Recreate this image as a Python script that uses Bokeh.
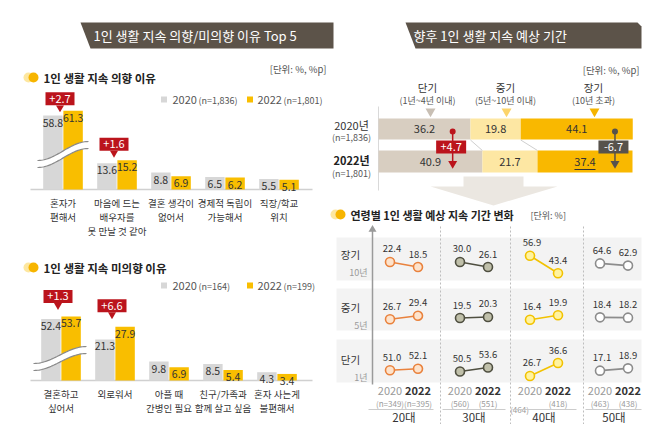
import numpy as np
from bokeh.plotting import figure
from bokeh.models import Range1d, ColumnDataSource
from bokeh.core.properties import value
from bokeh.transform import dodge
from bokeh.embed import file_html
from bokeh.resources import INLINE

FONT = "Noto Sans CJK KR"

# ---------------- data ----------------
title_left = "1인 생활 지속 의향/미의향 이유 Top 5"
title_right = "향후 1인 생활 지속 예상 기간"
unit_text = "[단위: %, %p]"

keep_title = "1인 생활 지속 의향 이유"
keep_reasons = ["혼자가\n편해서", "마음에 드는\n배우자를\n못 만날 것 같아", "결혼 생각이\n없어서",
                "경제적 독립이\n가능해서", "직장/학교\n위치"]
keep_2020 = [58.8, 13.6, 8.8, 6.5, 5.5]
keep_2022 = [61.3, 15.2, 6.9, 6.2, 5.1]
keep_change = ["+2.7", "+1.6"]
keep_n = ["(n=1,836)", "(n=1,801)"]

quit_title = "1인 생활 지속 미의향 이유"
quit_reasons = ["결혼하고\n싶어서", "외로워서", "아플 때\n간병인 필요", "친구/가족과\n함께 살고 싶음",
                "혼자 사는게\n불편해서"]
quit_2020 = [52.4, 21.3, 9.8, 8.5, 4.3]
quit_2022 = [53.7, 27.9, 6.9, 5.4, 3.4]
quit_change = ["+1.3", "+6.6"]
quit_n = ["(n=164)", "(n=199)"]

years = ["2020", "2022"]

periods = ["단기", "중기", "장기"]
period_sub = ["(1년~4년 이내)", "(5년~10년 이내)", "(10년 초과)"]
period_short = ["1년", "5년", "10년"]
dur_rows = ["2020년", "2022년"]
dur_n = ["(n=1,836)", "(n=1,801)"]
dur_2020 = [36.2, 19.8, 44.1]
dur_2022 = [40.9, 21.7, 37.4]
dur_change = {0: "+4.7", 2: "-6.7"}

age_title = "연령별 1인 생활 예상 지속 기간 변화"
age_unit = "[단위: %]"
ages = ["20대", "30대", "40대", "50대"]
age_n_2020 = ["(n=349)", "(560)", "(464)", "(463)"]
age_n_2022 = ["(n=395)", "(551)", "(418)", "(438)"]
long_2020 = [22.4, 30.0, 56.9, 64.6]
long_2022 = [18.5, 26.1, 43.4, 62.9]
mid_2020 = [26.7, 19.5, 16.4, 18.4]
mid_2022 = [29.4, 20.3, 19.9, 18.2]
short_2020 = [51.0, 50.5, 26.7, 17.1]
short_2022 = [52.1, 53.6, 36.6, 18.9]

# ---------------- style ----------------
DARK = "#333333"
MID = "#555555"
LIGHT = "#9a9a9a"
GRAY_BAR = "#d7d7d7"
GOLD = "#f9be00"
BANNER = "#5c5349"
RED = "#bb141c"
DGRAY = "#57524c"
PALE = "#fde7a0"
BULLET = "#f7b500"
SEG_COLORS = ["#d8cec1", "#fde7a3", "#f9b800"]
TRI_COLORS = ["#c8bfb4", "#fcd46a", "#f5b400"]
AGE_LINE = ["#e9823d", "#4f4f40", "#f2c200", "#8c8c8c"]
AGE_FILL = ["#fde3cc", "#c0c0aa", "#fff3a0", "#ffffff"]

W, H = 642, 424
p = figure(width=W, height=H, x_range=Range1d(0, W), y_range=Range1d(H, 0),
           x_axis_type=None, y_axis_type=None, output_backend="svg",
           toolbar_location=None, min_border=0, outline_line_color=None,
           background_fill_color="white", border_fill_color="white")
for g in p.grid:
    g.visible = False


def txt(x, y, s, size, color=DARK, align="center", baseline="middle", style="normal", **kw):
    xs = x if isinstance(x, list) else [x]
    ys = y if isinstance(y, list) else [y]
    ss = s if isinstance(s, list) else [s]
    return p.text(x=xs, y=ys, text=ss, text_font=value(FONT), text_font_size=f"{size}px",
                  text_color=color, text_align=align, text_baseline=baseline,
                  text_font_style=style, **kw)


def stxt(src, x, y, field, size, color=DARK, align="center", baseline="middle", style="normal", **kw):
    return p.text(x=x, y=y, text=field, source=src, text_font=value(FONT), text_font_size=f"{size}px",
                  text_color=color, text_align=align, text_baseline=baseline,
                  text_font_style=style, **kw)


def bullet(x, y):
    p.scatter(x=[x, x + 5], y=[y, y], size=10, fill_color=[PALE, BULLET], line_color=None)


# ---------------- banners ----------------
p.patch(x=[80, 333, 333, 90], y=[22, 22, 48, 48], fill_color=BANNER, line_color=None)
p.patch(x=[405, 637, 641, 641, 415], y=[22, 22, 26, 48, 48], fill_color=BANNER, line_color=None)
txt(93, 35, title_left, 13, color="white", align="left")
txt(413, 35, title_right, 13, color="white", align="left")
txt(326, 68, unit_text, 9.5, color=MID, align="right")
txt(639, 69, unit_text, 9.5, color=MID, align="right")

# ---------------- bar charts ----------------
S = 1.93
BREAK = 20.5
STEP = 54.0


def disp(vals):
    return [v - BREAK if v > 40 else v for v in vals]


def wave(x0, y0, x1, y1, n=40):
    t = np.linspace(0, 1, n)
    return x0 + (x1 - x0) * t, y0 + (y1 - y0) * (0.5 - 0.5 * np.cos(np.pi * t))


def bar_chart(key, title, cats, v20, v22, nlab, changes, gaps, base_y, x0, head_y, leg_y, wave_pts):
    rx, ry = key + "x", key + "y"
    p.extra_x_ranges[rx] = Range1d((0 - x0) / STEP, (W - x0) / STEP)
    p.extra_y_ranges[ry] = Range1d((base_y - H) / S, (base_y - 0) / S)
    bullet(28, head_y)
    txt(43, head_y, title, 11.5, color="#222222", align="left", style="bold")
    # legend
    p.rect(x=[163.5, 249.5], y=[leg_y, leg_y], width=6, height=6, fill_color=[GRAY_BAR, GOLD], line_color=None)
    txt([172, 257], [leg_y, leg_y], years, 11, color=MID, align="left")
    txt([198, 283], [leg_y + 0.5, leg_y + 0.5], nlab, 9, color=MID, align="left")
    # baseline
    p.segment(x0=[30], y0=[base_y], x1=[312], y1=[base_y], line_color="#d0d0d0", line_width=1.5)
    n = len(cats)
    src = ColumnDataSource(dict(i=list(range(n)), a=disp(v20), b=disp(v22),
                                la=[f"{v:.1f}" for v in v20], lb=[f"{v:.1f}" for v in v22],
                                cat=cats, zero=[0] * n))
    d = 0.187
    p.vbar(x=dodge("i", -d), top="a", bottom=0, width=0.36, source=src, fill_color=GRAY_BAR,
           line_color=None, x_range_name=rx, y_range_name=ry)
    p.vbar(x=dodge("i", d), top="b", bottom=0, width=0.36, source=src, fill_color=GOLD,
           line_color=None, x_range_name=rx, y_range_name=ry)
    stxt(src, dodge("i", -d), "a", "la", 10.5, y_offset=7, x_range_name=rx, y_range_name=ry)
    stxt(src, dodge("i", d), "b", "lb", 10.5, y_offset=7, x_range_name=rx, y_range_name=ry)
    p.text(x="i", y="zero", text="cat", source=src, text_font=value(FONT), text_font_size="9.5px",
           text_color=DARK, text_align="center", text_baseline="top", text_line_height=1.0,
           y_offset=6, x_range_name=rx, y_range_name=ry)
    # axis-break mark
    (ux0, uy0, ux1, uy1) = wave_pts
    wx, wy = wave(ux0, uy0, ux1, uy1)
    p.patch(x=list(wx) + list(wx[::-1]), y=list(wy) + list((wy + 7)[::-1]), fill_color="white", line_color=None)
    p.line(x=wx, y=wy, line_color="#8a8a8a", line_width=1.2)
    p.line(x=wx, y=wy + 7, line_color="#8a8a8a", line_width=1.2)
    # change callouts
    da, db = disp(v20), disp(v22)
    for k, lab in enumerate(changes):
        top = max(da[k], db[k])
        cx = k - 3 / STEP
        cy = top + gaps[k] / S
        p.scatter(x=[cx], y=[top + (gaps[k] - 9) / S], marker="inverted_triangle", size=8,
                  fill_color=RED, line_color=None, x_range_name=rx, y_range_name=ry)
        p.rect(x=[cx], y=[cy], width=29, height=13, width_units="screen", height_units="screen",
               fill_color=RED, line_color=None, x_range_name=rx, y_range_name=ry)
        p.text(x=[cx], y=[cy], text=[lab], text_font=value(FONT), text_font_size="11px",
               text_color="white", text_align="center", text_baseline="middle",
               x_range_name=rx, y_range_name=ry)


bar_chart("c1", keep_title, keep_reasons, keep_2020, keep_2022, keep_n, keep_change, [12, 16],
          189, 62.5, 77, 99, (37, 160, 88, 141))
bar_chart("c2", quit_title, quit_reasons, quit_2020, quit_2022, quit_n, quit_change, [20, 21],
          380, 60.5, 267, 285, (33, 363, 86, 346))

# ---------------- stacked duration bars ----------------
SX = 2.54
X0S = 378
p.extra_x_ranges["sx"] = Range1d((0 - X0S) / SX, (W - X0S) / SX)
row_y = [128.5, 161]
row_h = [21, 22]

# headers
for k, (name, sub) in enumerate(zip(periods, period_sub)):
    hx = [427, 505, 593][k]
    txt(hx, 87, name, 10.5, color=DARK)
    txt(hx, 100, sub, 9, color=MID)
p.scatter(x=[430, 506, 594], y=[111, 111, 111], marker="inverted_triangle", size=10,
          fill_color=TRI_COLORS, line_color=None)

# left axis line
p.segment(x0=[0], y0=[106], x1=[0], y1=[190], line_color="#d9d9d9", line_width=1, x_range_name="sx")

cums = []
for r, vals in enumerate([dur_2020, dur_2022]):
    right = np.cumsum(vals)
    left = right - np.array(vals)
    cums.append(right)
    src = ColumnDataSource(dict(l=left, r=right, c=(left + right) / 2, y=[row_y[r]] * 3,
                                col=SEG_COLORS, lab=[f"{v:.1f}" for v in vals]))
    p.hbar(y="y", left="l", right="r", height=row_h[r], fill_color="col", line_color=None,
           source=src, x_range_name="sx")
    stxt(src, "c", "y", "lab", 11, x_range_name="sx")
# underline on the long-term 2022 value
c22 = cums[1][2] - dur_2022[2] / 2
p.rect(x=[c22], y=[169], width=21, height=1, width_units="screen", height_units="screen",
       fill_color=DARK, line_color=None, x_range_name="sx")
# connectors between rows
p.segment(x0=list(cums[0][:2]), y0=[139.5, 139.5], x1=list(cums[1][:2]), y1=[150, 150],
          line_color="#cfcfcf", line_width=1, x_range_name="sx")

# row labels
txt(351, 124, dur_rows[0], 11, color=DARK)
txt(351, 137, dur_n[0], 9, color=MID)
txt(351, 159, dur_rows[1], 11, color="#222222", style="bold")
txt(351, 173, dur_n[1], 9, color=MID)

# change arrows
for k, lab in dur_change.items():
    col = RED if lab.startswith("+") else DGRAY
    ax = cums[0][k] - 7
    p.segment(x0=[ax], y0=[131], x1=[ax], y1=[162], line_color=col, line_width=1.5, x_range_name="sx")
    p.scatter(x=[ax], y=[131], size=6, fill_color=col, line_color=None, x_range_name="sx")
    p.scatter(x=[ax], y=[163], marker="inverted_triangle", size=9, fill_color=col, line_color=None,
              x_range_name="sx")
    p.rect(x=[ax - 0.6], y=[146.5], width=30, height=13, width_units="screen", height_units="screen",
           fill_color=col, line_color=None, x_range_name="sx")
    p.text(x=[ax - 0.6], y=[146.5], text=[lab], text_font=value(FONT), text_font_size="11px",
           text_color="white", text_align="center", text_baseline="middle", x_range_name="sx")

# big transition arrow
p.patch(x=[463, 523, 523, 557, 493, 430, 463], y=[176, 176, 186, 186, 205, 186, 186],
        fill_color="#ebe7e1", line_color=None)

# ---------------- age grid ----------------
bullet(335, 214)
txt(350, 214, age_title, 11, color="#222222", align="left", style="bold")
txt(530, 214.5, age_unit, 9, color=MID, align="left")

row_centers = [264, 317, 369]
bands = [(237, 280), (288, 330), (339, 382)]
p.quad(left=[336] * 3, right=[641] * 3, top=[b[0] for b in bands], bottom=[b[1] for b in bands],
       fill_color="#f3f3f3", line_color=None)

# separators and axis arrow
p.segment(x0=[440, 510, 583], y0=[226] * 3, x1=[440, 510, 583], y1=[H] * 3,
          line_color="#bdbdbd", line_width=1, line_dash="2 2")
p.segment(x0=[372], y0=[230], x1=[372], y1=[384], line_color="#9a9a9a", line_width=1.5)
p.scatter(x=[372], y=[229], marker="triangle", size=8, fill_color="#9a9a9a", line_color=None)

GX0, GSTEP = 403.5, 70.0
p.extra_x_ranges["gx"] = Range1d((0 - GX0) / GSTEP, (W - GX0) / GSTEP)
DY = 1.3
DD = 0.2

row_data = [(2, long_2020, long_2022), (1, mid_2020, mid_2022), (0, short_2020, short_2022)]
for r, (pi, v20, v22) in enumerate(row_data):
    c = row_centers[r]
    rn = f"row{r}"
    p.extra_y_ranges[rn] = Range1d((c - H) / DY, (c - 0) / DY)
    txt(350, c - 10, periods[pi], 10.5, color=DARK)
    txt(367, c + 8, period_short[pi], 9, color=LIGHT, align="right")
    m = (np.array(v20) + np.array(v22)) / 2
    src = ColumnDataSource(dict(j=list(range(4)), a=np.array(v20) - m, b=np.array(v22) - m,
                                la=[f"{v:.1f}" for v in v20], lb=[f"{v:.1f}" for v in v22],
                                lc=AGE_LINE, fc=AGE_FILL))
    p.segment(x0=dodge("j", -DD), y0="a", x1=dodge("j", DD), y1="b", line_color="lc", line_width=1.6,
              source=src, x_range_name="gx", y_range_name=rn)
    for col, off in (("a", -DD), ("b", DD)):
        p.scatter(x=dodge("j", off), y=col, size=9, fill_color="fc", line_color="lc", line_width=1.6,
                  source=src, x_range_name="gx", y_range_name=rn)
    stxt(src, dodge("j", -DD), "a", "la", 9.5, x_offset=2, y_offset=-13, x_range_name="gx", y_range_name=rn)
    stxt(src, dodge("j", DD), "b", "lb", 9.5, x_offset=0, y_offset=-13, x_range_name="gx", y_range_name=rn)

# bottom labels
nsrc = ColumnDataSource(dict(j=list(range(4)), y0=[390] * 4, y1=[403] * 4, y2=[416] * 4,
                             a=[years[0]] * 4, b=[years[1]] * 4, nb=age_n_2022, age=ages))
stxt(nsrc, dodge("j", -DD), "y0", "a", 11, color=LIGHT, x_range_name="gx")
stxt(nsrc, dodge("j", DD), "y0", "b", 11, color=DARK, style="bold", x_range_name="gx")
for j in range(4):
    xj = j - DD - (0.15 if j == 2 else 0)
    yj = 409 if j == 2 else 403
    p.text(x=[xj], y=[yj], text=[age_n_2020[j]], text_font=value(FONT), text_font_size="8px",
           text_color=LIGHT, text_align="center", text_baseline="middle", x_range_name="gx")
stxt(nsrc, dodge("j", DD), "y1", "nb", 8, color=LIGHT, x_range_name="gx")
p.segment(x0=[368, 442, 512, 585], y0=[409] * 4, x1=[433, 505, 576, 641], y1=[409] * 4,
          line_color="#cccccc", line_width=1)
stxt(nsrc, "j", "y2", "age", 11.5, color=DARK, x_range_name="gx")

open("out.html", "w").write(file_html(p, INLINE))
